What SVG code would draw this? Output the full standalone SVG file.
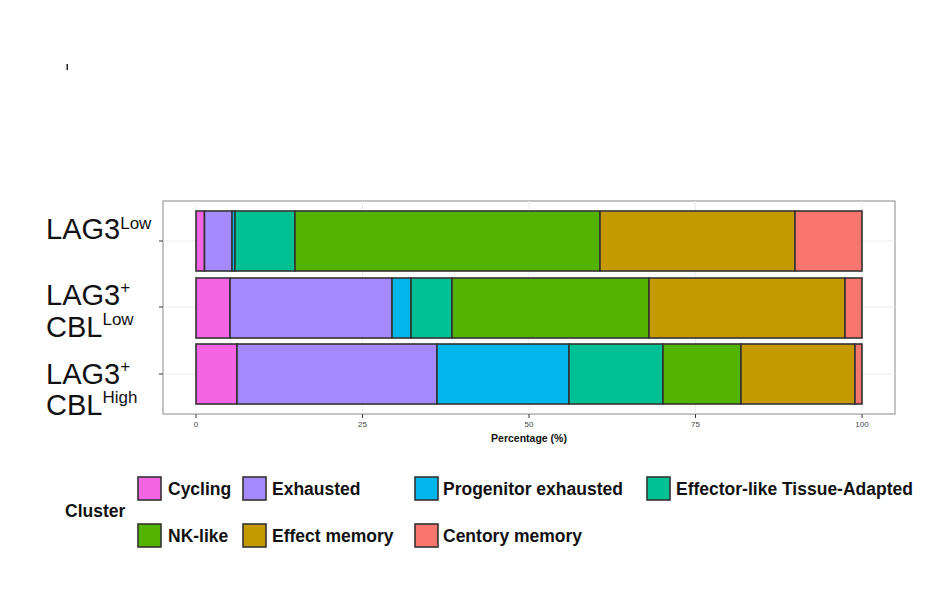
<svg xmlns="http://www.w3.org/2000/svg" width="934" height="597" viewBox="0 0 934 597">
<style>
.b{stroke:#333;stroke-width:1.6}
.g{stroke:#ebebeb;stroke-width:1}
.t{font-family:"Liberation Sans",Arial,sans-serif;font-size:8px;fill:#444}
.y{font-family:"Liberation Sans",Arial,sans-serif;font-size:29px;fill:#111}
.s{font-size:17px}
.l{font-family:"Liberation Sans",Arial,sans-serif;font-size:17.5px;font-weight:bold;fill:#111}
.c1{fill:#F564E3}.c2{fill:#A58AFF}.c3{fill:#00B6EB}.c4{fill:#00C094}.c5{fill:#53B400}.c6{fill:#C49A00}.c7{fill:#F8766D}
</style>
<rect width="934" height="597" fill="#fff"/>
<rect x="66.5" y="64" width="1.5" height="6" fill="#222"/>
<g id="panel">
<rect x="163" y="201" width="732" height="213" fill="#fff" stroke="#888" stroke-width="1"/>
<line class="g" x1="163" y1="241" x2="895" y2="241"/>
<line class="g" x1="163" y1="307" x2="895" y2="307"/>
<line class="g" x1="163" y1="374" x2="895" y2="374"/>
<line class="g" x1="196" y1="201" x2="196" y2="414"/>
<line class="g" x1="362.5" y1="201" x2="362.5" y2="414"/>
<line class="g" x1="529" y1="201" x2="529" y2="414"/>
<line class="g" x1="695.5" y1="201" x2="695.5" y2="414"/>
<line class="g" x1="862" y1="201" x2="862" y2="414"/>
<g stroke="#333" stroke-width="1">
<line x1="159" y1="241" x2="163" y2="241"/><line x1="159" y1="307" x2="163" y2="307"/><line x1="159" y1="374" x2="163" y2="374"/>
<line x1="196" y1="414" x2="196" y2="418"/><line x1="362.5" y1="414" x2="362.5" y2="418"/><line x1="529" y1="414" x2="529" y2="418"/><line x1="695.5" y1="414" x2="695.5" y2="418"/><line x1="862" y1="414" x2="862" y2="418"/>
</g>
<g class="t" text-anchor="middle">
<text x="196" y="427">0</text><text x="362.5" y="427">25</text><text x="529" y="427">50</text><text x="695.5" y="427">75</text><text x="862" y="427">100</text>
</g>
<text x="529" y="442" text-anchor="middle" font-family="Liberation Sans,Arial,sans-serif" font-size="10.5" font-weight="bold" fill="#111">Percentage (%)</text>
</g>
<g id="bar1">
<rect class="b c1" x="196" y="211" width="8.5" height="60"/>
<rect class="b c2" x="204.5" y="211" width="27.5" height="60"/>
<rect class="b c3" x="232" y="211" width="3" height="60"/>
<rect class="b c4" x="235" y="211" width="60" height="60"/>
<rect class="b c5" x="295" y="211" width="305" height="60"/>
<rect class="b c6" x="600" y="211" width="195" height="60"/>
<rect class="b c7" x="795" y="211" width="67" height="60"/>
</g>
<g id="bar2">
<rect class="b c1" x="196" y="278" width="34" height="60"/>
<rect class="b c2" x="230" y="278" width="162" height="60"/>
<rect class="b c3" x="392" y="278" width="19" height="60"/>
<rect class="b c4" x="411" y="278" width="41" height="60"/>
<rect class="b c5" x="452" y="278" width="197" height="60"/>
<rect class="b c6" x="649" y="278" width="196" height="60"/>
<rect class="b c7" x="845" y="278" width="17" height="60"/>
</g>
<g id="bar3">
<rect class="b c1" x="196" y="344" width="41" height="60"/>
<rect class="b c2" x="237" y="344" width="200" height="60"/>
<rect class="b c3" x="437" y="344" width="132" height="60"/>
<rect class="b c4" x="569" y="344" width="94" height="60"/>
<rect class="b c5" x="663" y="344" width="78" height="60"/>
<rect class="b c6" x="741" y="344" width="114" height="60"/>
<rect class="b c7" x="855" y="344" width="7" height="60"/>
</g>
<g id="ylabels" class="y">
<text x="46" y="239">LAG3<tspan class="s" dy="-10">Low</tspan></text>
<text x="46" y="305">LAG3<tspan class="s" dy="-12">+</tspan></text>
<text x="46" y="337">CBL<tspan class="s" dy="-12">Low</tspan></text>
<text x="46" y="384">LAG3<tspan class="s" dy="-12">+</tspan></text>
<text x="46" y="415">CBL<tspan class="s" dy="-12">High</tspan></text>
</g>
<g id="legend">
<text x="65" y="517" class="l" font-size="16">Cluster</text>
<rect class="b c1" x="138" y="477" width="23" height="23"/><text class="l" x="168" y="495">Cycling</text>
<rect class="b c2" x="243" y="477" width="23" height="23"/><text class="l" x="272" y="495">Exhausted</text>
<rect class="b c3" x="415" y="477" width="23" height="23"/><text class="l" x="443" y="495">Progenitor exhausted</text>
<rect class="b c4" x="647" y="477" width="23" height="23"/><text class="l" x="676" y="495">Effector-like Tissue-Adapted</text>
<rect class="b c5" x="138" y="524" width="23" height="23"/><text class="l" x="168" y="542">NK-like</text>
<rect class="b c6" x="243" y="524" width="23" height="23"/><text class="l" x="272" y="542">Effect memory</text>
<rect class="b c7" x="415" y="524" width="23" height="23"/><text class="l" x="443" y="542">Centory memory</text>
</g>
</svg>
